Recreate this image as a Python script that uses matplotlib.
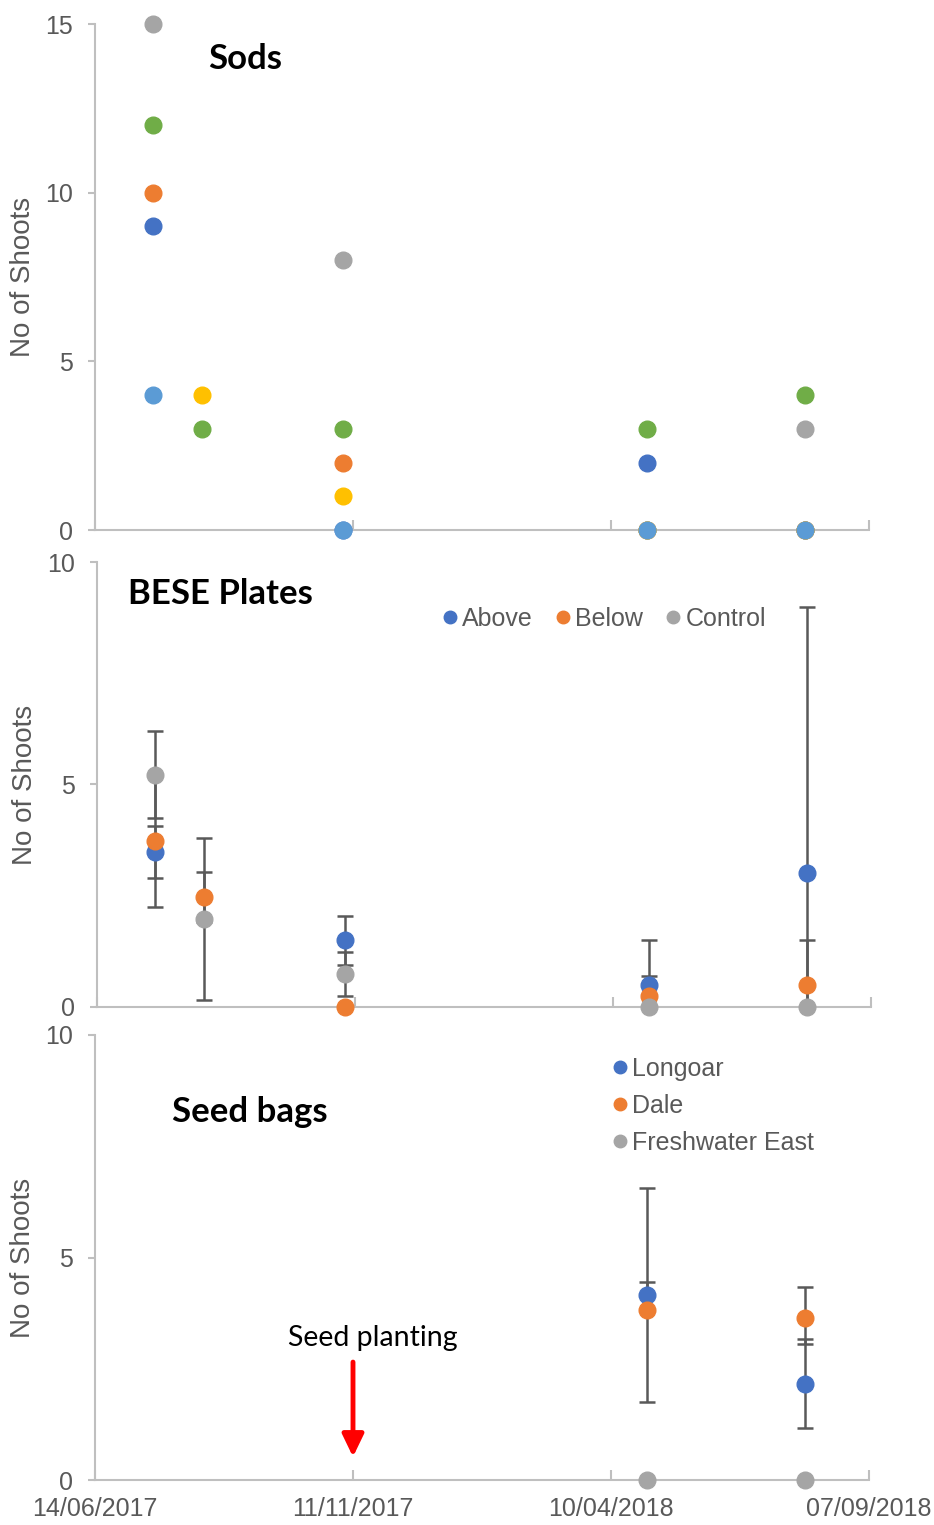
"""Shoot counts for sods, BESE plates and seed bags, three stacked panels."""
from datetime import date

import matplotlib

matplotlib.use("Agg")
import matplotlib.pyplot as plt
import matplotlib.dates as mdates
import numpy as np

nan = np.nan

# sample dates
dates = [date(2017, 7, 18), date(2017, 8, 15), date(2017, 11, 5),
         date(2018, 5, 1), date(2018, 8, 1)]
tick_dates = [date(2017, 6, 14), date(2017, 11, 11), date(2018, 4, 10), date(2018, 9, 7)]

# Sods: six series, no legend
sods_blue = [9, nan, 0, 2, 0]
sods_orange = [10, nan, 2, 0, 0]
sods_gray = [15, nan, 8, 0, 3]
sods_yellow = [nan, 4, 1, 0, 0]
sods_lightblue = [4, nan, 0, 0, 0]
sods_green = [12, 3, 3, 3, 4]

# BESE plates: mean and +/- error
bese_labels = ["Above", "Below", "Control"]
bese_above = [3.48, nan, 1.5, 0.5, 3.0]
bese_above_err = [0.59, nan, 0.55, 1.0, 6.0]
bese_below = [3.73, 2.48, 0.0, 0.25, 0.5]
bese_below_err = [1.48, 0.56, 0.0, 0.45, 1.0]
bese_control = [5.22, 1.98, 0.74, 0.0, 0.0]
bese_control_err = [0.98, 1.82, 0.5, 0.0, 0.0]

# Seed bags: mean, lower and upper error
seed_labels = ["Longoar", "Dale", "Freshwater East"]
seed_longoar = [nan, nan, nan, 4.15, 2.16]
seed_longoar_lo = [0, 0, 0, 2.4, 1.0]
seed_longoar_hi = [0, 0, 0, 2.42, 1.0]
seed_dale = [nan, nan, nan, 3.82, 3.65]
seed_dale_lo = [0, 0, 0, 0.0, 0.6]
seed_dale_hi = [0, 0, 0, 0.64, 0.68]
seed_fresh = [nan, nan, nan, 0.0, 0.0]

BLUE, ORANGE, GRAY = "#4472C4", "#ED7D31", "#A5A5A5"
YELLOW, LIGHTBLUE, GREEN = "#FFC000", "#5B9BD5", "#70AD47"
TXT = "#595959"
AX = "#BFBFBF"

plt.rcParams["font.family"] = ["Liberation Sans", "DejaVu Sans"]

fig = plt.figure(figsize=(9.34, 15.25), dpi=100)
W, H = 934, 1525


def make_ax(left, right, top, bottom):
    return fig.add_axes([left / W, 1 - bottom / H, (right - left) / W, (bottom - top) / H])


ax1 = make_ax(95, 869, 24, 530)
ax2 = make_ax(97, 871, 562, 1007)
ax3 = make_ax(95, 869, 1035, 1480)

x = mdates.date2num(dates)
for ax, ymax in ((ax1, 15), (ax2, 10), (ax3, 10)):
    ax.set_xlim(mdates.date2num(tick_dates[0]), mdates.date2num(tick_dates[-1]))
    ax.set_ylim(0, ymax)
    ax.set_yticks(np.arange(0, ymax + 1, 5))
    ax.set_xticks(mdates.date2num(tick_dates))
    ax.spines[["top", "right"]].set_visible(False)
    for s in ("left", "bottom"):
        ax.spines[s].set_color(AX)
        ax.spines[s].set_linewidth(1.5)
    ax.tick_params(axis="y", direction="out", length=5, width=1.5, color=AX,
                   labelcolor=TXT, labelsize=18, pad=11)
    ax.tick_params(axis="x", direction="in", length=7, width=1.5, color=AX,
                   labelcolor=TXT, labelsize=18, pad=12)
    ax.set_ylabel("No of Shoots", fontsize=20, color=TXT)
    ax.yaxis.set_label_coords(-0.076, 0.5)
    ax.xaxis.set_major_formatter(mdates.DateFormatter("%d/%m/%Y"))

ax1.tick_params(axis="x", labelbottom=False)
ax2.tick_params(axis="x", labelbottom=False)

ms = 12
title_kw = dict(fontsize=25, fontweight="bold", family=["Lato", "DejaVu Sans"],
                ha="center", va="center")

# Sods
for vals, c in ((sods_blue, BLUE), (sods_orange, ORANGE), (sods_gray, GRAY),
                (sods_yellow, YELLOW), (sods_lightblue, LIGHTBLUE), (sods_green, GREEN)):
    ax1.plot(x, vals, "o", ms=ms, color=c, clip_on=False, zorder=3)
ax1.text(0.194, 0.93, "Sods", transform=ax1.transAxes, **title_kw)

# BESE plates
for vals, err, c, lab in ((bese_above, bese_above_err, BLUE, bese_labels[0]),
                          (bese_below, bese_below_err, ORANGE, bese_labels[1]),
                          (bese_control, bese_control_err, GRAY, bese_labels[2])):
    e = np.array(err)
    ax2.errorbar(x, vals, yerr=np.where(e > 0, e, nan), fmt="none", ecolor=TXT,
                 elinewidth=1.8, capsize=6, capthick=1.8, zorder=2)
    ax2.plot(x, vals, "o", ms=ms, color=c, clip_on=False, zorder=3, label=lab)
ax2.text(0.159, 0.928, "BESE Plates", transform=ax2.transAxes, **title_kw)
ax2.legend(loc="center", bbox_to_anchor=(0.652, 0.872), ncol=3, frameon=False,
           fontsize=18, labelcolor=TXT, handletextpad=0.0, columnspacing=0.7,
           markerscale=0.75, handlelength=1.0)

# Seed bags
for vals, lo, hi, c, lab in ((seed_longoar, seed_longoar_lo, seed_longoar_hi, BLUE, seed_labels[0]),
                             (seed_dale, seed_dale_lo, seed_dale_hi, ORANGE, seed_labels[1])):
    ax3.errorbar(x, vals, yerr=[lo, hi], fmt="none", ecolor=TXT,
                 elinewidth=1.8, capsize=6, capthick=1.8, zorder=2)
    ax3.plot(x, vals, "o", ms=ms, color=c, clip_on=False, zorder=3, label=lab)
ax3.plot(x, seed_fresh, "o", ms=ms, color=GRAY, clip_on=False, zorder=3, label=seed_labels[2])
ax3.text(0.2, 0.826, "Seed bags", transform=ax3.transAxes, **title_kw)
ax3.legend(loc="upper left", bbox_to_anchor=(0.649, 0.973), frameon=False,
           fontsize=18, labelcolor=TXT, handletextpad=0.0, labelspacing=0.52,
           markerscale=0.75, handlelength=1.0, borderaxespad=0)

planting = mdates.date2num(date(2017, 11, 11))
ax3.annotate("", xy=(planting, 0.52), xytext=(planting, 2.65),
             arrowprops=dict(arrowstyle="-|>,head_width=0.65,head_length=1.35",
                             color="red", lw=3.5, shrinkA=0, shrinkB=0))
ax3.text(planting + 11.6, 3.19, "Seed planting", fontsize=20.5, ha="center", va="center",
         family=["Lato", "DejaVu Sans"], color="black")

fig.savefig("out.png", dpi=100)
